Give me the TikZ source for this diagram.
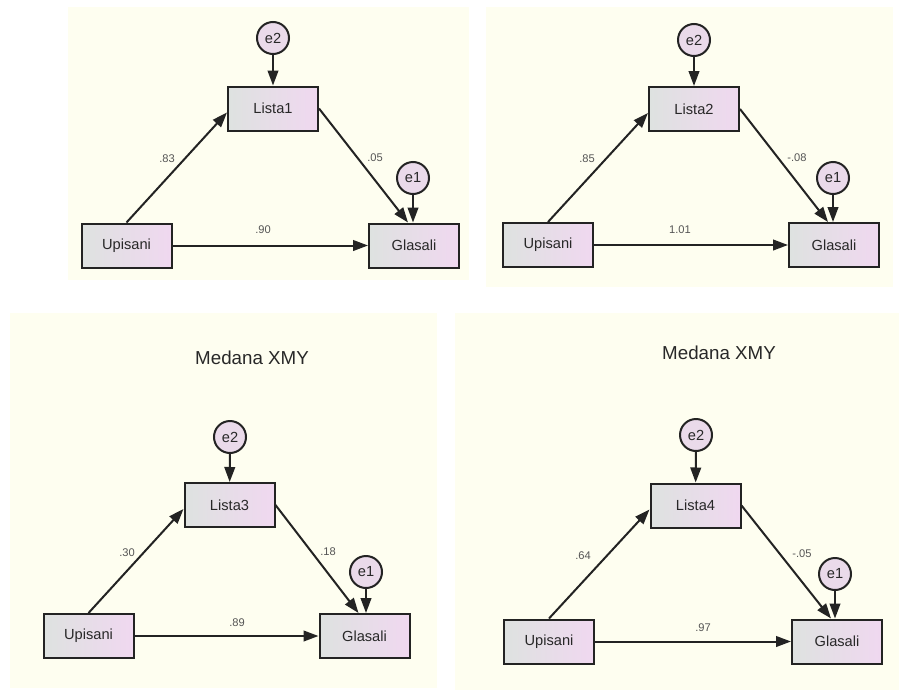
\documentclass[tikz,border=0pt]{standalone}
\usepackage{fontspec}
\setmainfont{Liberation Sans}
\usepackage{tikz}
\usetikzlibrary{arrows.meta}
\definecolor{ivory}{RGB}{254,254,240}
\definecolor{boxl}{RGB}{222,226,224}
\definecolor{boxr}{RGB}{240,216,240}
\definecolor{circ}{RGB}{234,218,234}
\definecolor{edge}{RGB}{35,35,35}
\definecolor{txt}{RGB}{40,40,40}
\definecolor{lbl}{RGB}{85,85,85}

\begin{document}
\begin{tikzpicture}[x=0.3mm,y=-0.3mm,
	obs/.style={draw=edge, line width=0.6mm, left color=boxl, right color=boxr,
		minimum width=27mm, minimum height=13.2mm, inner sep=0pt,
		font=\fontsize{12.5}{14}\selectfont, text=txt},
	err/.style={circle, draw=edge, line width=0.6mm, fill=circ, minimum size=9.6mm,
		inner sep=0pt, font=\fontsize{12.5}{14}\selectfont, text=txt},
	arr/.style={draw=edge, line width=0.6mm, -{Triangle[length=4.5mm,width=3.2mm]}},
	wt/.style={font=\fontsize{9.5}{10}\selectfont, text=lbl, inner sep=0pt},
	ttl/.style={font=\fontsize{16}{18}\selectfont, text=txt}]
	\useasboundingbox (0,0) rectangle (899,694);
	\fill[white] (0,0) rectangle (899,694);
	% backgrounds
	\fill[ivory] (68,7) rectangle (469,280);
	\fill[ivory] (486,7) rectangle (893,287);
	\fill[ivory] (10,313) rectangle (437,688);
	\fill[ivory] (455,313) rectangle (899,690);

	% Lista1
	\node[obs] (upA) at (126.5,245.5) {Upisani};
	\node[obs] (liA) at (273,108.5) {Lista1};
	\node[obs] (glA) at (414,245.5) {Glasali};
	\node[err] (etwoA) at (273,38) {e2};
	\node[err] (eoneA) at (413,178) {e1};
	\draw[arr] (upA.north) -- ([yshift=-1.2mm]liA.west);
	\draw[arr] (liA.east) -- ([xshift=-1.8mm]glA.north);
	\draw[arr] (upA.east) -- (glA.west);
	\draw[arr] (etwoA) -- (liA);
	\draw[arr] (eoneA) -- (eoneA |- glA.north);
	\node[wt] (wAa) at (167,159) {.83};
	\node[wt] (wAb) at (375,158) {.05};
	\node[wt] (wAc) at (263,230) {.90};

	% Lista2
	\node[obs] (upB) at (548,245) {Upisani};
	\node[obs] (liB) at (694,109) {Lista2};
	\node[obs] (glB) at (834,245) {Glasali};
	\node[err] (etwoB) at (694,40) {e2};
	\node[err] (eoneB) at (833,178) {e1};
	\draw[arr] (upB.north) -- ([yshift=-1.2mm]liB.west);
	\draw[arr] (liB.east) -- ([xshift=-1.8mm]glB.north);
	\draw[arr] (upB.east) -- (glB.west);
	\draw[arr] (etwoB) -- (liB);
	\draw[arr] (eoneB) -- (eoneB |- glB.north);
	\node[wt] (wBa) at (587,159) {.85};
	\node[wt] (wBb) at (797,158) {-.08};
	\node[wt] (wBc) at (680,230) {1.01};

	% Lista3
	\node[ttl] (tC) at (252,358) {Medana XMY};
	\node[obs] (upC) at (88.5,636) {Upisani};
	\node[obs] (liC) at (229.5,505) {Lista3};
	\node[obs] (glC) at (364.5,636) {Glasali};
	\node[err] (etwoC) at (230,437) {e2};
	\node[err] (eoneC) at (366,572) {e1};
	\draw[arr] (upC.north) -- ([yshift=-1.2mm]liC.west);
	\draw[arr] (liC.east) -- ([xshift=-1.8mm]glC.north);
	\draw[arr] (upC.east) -- (glC.west);
	\draw[arr] (etwoC) -- (liC);
	\draw[arr] (eoneC) -- (eoneC |- glC.north);
	\node[wt] (wCa) at (127,553) {.30};
	\node[wt] (wCb) at (328,552) {.18};
	\node[wt] (wCc) at (237,623) {.89};

	% Lista4
	\node[ttl] (tD) at (719,353) {Medana XMY};
	\node[obs] (upD) at (549,641.5) {Upisani};
	\node[obs] (liD) at (695.5,505.5) {Lista4};
	\node[obs] (glD) at (837,641.5) {Glasali};
	\node[err] (etwoD) at (696,435) {e2};
	\node[err] (eoneD) at (835,574) {e1};
	\draw[arr] (upD.north) -- ([yshift=-1.2mm]liD.west);
	\draw[arr] (liD.east) -- ([xshift=-1.8mm]glD.north);
	\draw[arr] (upD.east) -- (glD.west);
	\draw[arr] (etwoD) -- (liD);
	\draw[arr] (eoneD) -- (eoneD |- glD.north);
	\node[wt] (wDa) at (583,556) {.64};
	\node[wt] (wDb) at (802,554) {-.05};
	\node[wt] (wDc) at (703,628) {.97};
\end{tikzpicture}
\end{document}
